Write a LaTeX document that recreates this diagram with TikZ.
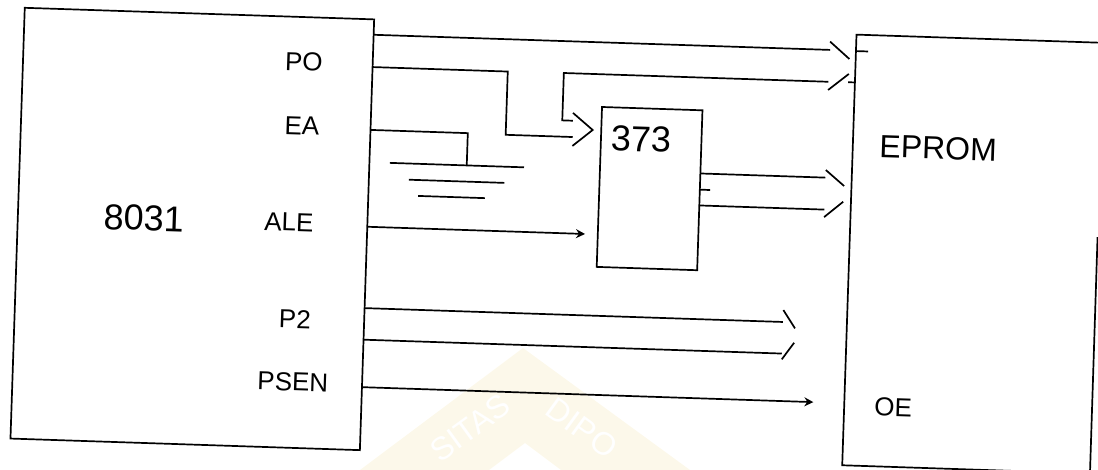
\documentclass[tikz,border=0pt]{standalone}
\usepackage{xcolor}
\usepackage{fontspec}
\setmainfont{Liberation Sans}
\usepackage{tikz}
\usetikzlibrary{arrows.meta}
\definecolor{stampbg}{HTML}{FCF8EA}
\tikzset{
  chipbox/.style={draw,line width=1.7pt,inner sep=0pt},
  wire/.style={line width=1.7pt},
  arrowwire/.style={wire,-{Stealth[length=9pt,width=9pt,inset=3pt]}},
  pinlabel/.style={inner sep=0pt,font=\fontsize{26}{26}\selectfont},
  chiplabel/.style={inner sep=0pt,font=\fontsize{36}{36}\selectfont},
  stamplabel/.style={inner sep=0pt,text=white,font=\fontsize{32}{32}\selectfont},
}
\begin{document}
\begin{tikzpicture}[x=1pt,y=-1pt]
\clip (0,0) rectangle (1098,470);
% faint stamp under the drawing
\fill[stampbg] (360,470) -- (523,348) -- (690,470) -- (561,470) -- (525,443) -- (489,470) -- cycle;
\node[stamplabel,rotate=36] (stamp1) at (470,428) {SITAS};
\node[stamplabel,rotate=-36] (stamp2) at (582,428) {DIPO};
\begin{scope}[rotate around={-1.9:(549,235)},transform shape]
\node[chipbox,minimum width=349.6pt,minimum height=431pt] (cpu) at (192.3,240.8) {};
\node[chipbox,minimum width=100.5pt,minimum height=160pt] (latch) at (648,185.3) {};
\node[inner sep=0pt,minimum width=247.5pt,minimum height=430.5pt] (eprom) at (973.7,240) {};
\node[chiplabel] (cpuname) at (143.4,231.4) {8031};
\node[chiplabel] (latchname) at (637.8,136) {373};
\node[inner sep=0pt,font=\fontsize{32}{32}\selectfont] (epromname) at (935.1,135.2) {EPROM};
\node[pinlabel] (p0) at (298.3,70.1) {PO};
\node[pinlabel] (ea) at (298.4,134.2) {EA};
\node[pinlabel] (ale) at (288.6,230.6) {ALE};
\node[pinlabel] (p2) at (297.8,327.4) {P2};
\node[pinlabel] (psen) at (297.9,390.4) {PSEN};
\node[pinlabel] (oe) at (898.7,395.6) {OE};
% eprom outline, right side is broken off in the upper half
\coordinate (eprombreak) at (1097.4,219);
\draw[wire] (eprombreak) -- (eprom.south east) -- (eprom.south west) -- (eprom.north west) -- (eprom.north east);
% p0 bus to eprom
\coordinate (bus1a) at (367,40.7);
\coordinate (bus1b) at (823.8,40.7);
\coordinate (arm1a) at (823.6,32.4);
\coordinate (arm1b) at (843.4,49.1);
\coordinate (arm2a) at (823.2,80.8);
\coordinate (arm2b) at (843.4,64.1);
\coordinate (bus2a) at (558.5,72.6);
\coordinate (bus2b) at (823.2,72.6);
\coordinate (bus2c) at (558.5,120);
\coordinate (bus2d) at (569.2,120);
\coordinate (stub1a) at (850,41);
\coordinate (stub1b) at (862,41);
\coordinate (stub2a) at (843,72.4);
\coordinate (stub2b) at (850,72.4);
\draw[wire] (bus1a) -- (bus1b);
\draw[wire] (arm1a) -- (arm1b);
\draw[wire] (arm2a) -- (arm2b);
\draw[wire] (bus2d) -- (bus2c) -- (bus2a) -- (bus2b);
\draw[wire] (stub1a) -- (stub1b);
\draw[wire] (stub2a) -- (stub2b);
% p0 bus to 373
\coordinate (bus3a) at (367,73);
\coordinate (bus3b) at (502.4,73);
\coordinate (bus3c) at (502.4,136.3);
\coordinate (bus3d) at (569.5,136.3);
\coordinate (head1) at (569,112.2);
\coordinate (head2) at (589.2,128.6);
\coordinate (head3) at (569.5,145.2);
\draw[wire] (bus3a) -- (bus3b) -- (bus3c) -- (bus3d);
\draw[wire] (head1) -- (head2) -- (head3);
% ea to ground
\coordinate (ea1) at (367.5,135.9);
\coordinate (ea2) at (464.5,135.9);
\coordinate (ea3) at (464.5,168.2);
\draw[wire] (ea1) -- (ea2) -- (ea3);
\coordinate (gnd1a) at (387.6,168.2);
\coordinate (gnd1b) at (521.8,168.2);
\coordinate (gnd2a) at (407.2,184.4);
\coordinate (gnd2b) at (502.6,184.4);
\coordinate (gnd3a) at (417,200.3);
\coordinate (gnd3b) at (483.8,200.3);
\draw[wire] (gnd1a) -- (gnd1b);
\draw[wire] (gnd2a) -- (gnd2b);
\draw[wire] (gnd3a) -- (gnd3b);
% ale
\coordinate (ale1) at (367.3,232.8);
\coordinate (ale2) at (585,232.8);
\draw[arrowwire] (ale1) -- (ale2);
% 373 outputs
\coordinate (out1a) at (698.3,168.5);
\coordinate (out1b) at (823.4,168.5);
\coordinate (out2a) at (698.3,200.5);
\coordinate (out2b) at (823.4,200.5);
\coordinate (arm3a) at (823.6,160.9);
\coordinate (arm3b) at (842.4,176.3);
\coordinate (arm4a) at (823.4,208);
\coordinate (arm4b) at (842,192);
\coordinate (stub3a) at (698.3,184.7);
\coordinate (stub3b) at (708.5,184.7);
\draw[wire] (out1a) -- (out1b);
\draw[wire] (out2a) -- (out2b);
\draw[wire] (arm3a) -- (arm3b);
\draw[wire] (arm4a) -- (arm4b);
\draw[wire] (stub3a) -- (stub3b);
% p2 and psen
\coordinate (p2a) at (367.2,314.2);
\coordinate (p2b) at (785.6,314.2);
\coordinate (p2c) at (367.2,345.8);
\coordinate (p2d) at (785.6,345.8);
\coordinate (arm5a) at (785.8,302.3);
\coordinate (arm5b) at (798,320.2);
\coordinate (arm6a) at (797.6,334.6);
\coordinate (arm6b) at (785.8,351.6);
\draw[wire] (p2a) -- (p2b);
\draw[wire] (p2c) -- (p2d);
\draw[wire] (arm5a) -- (arm5b);
\draw[wire] (arm6a) -- (arm6b);
\coordinate (psen1) at (367,393.3);
\coordinate (psen2) at (818.8,393.3);
\draw[arrowwire] (psen1) -- (psen2);
\end{scope}
\end{tikzpicture}
\end{document}
